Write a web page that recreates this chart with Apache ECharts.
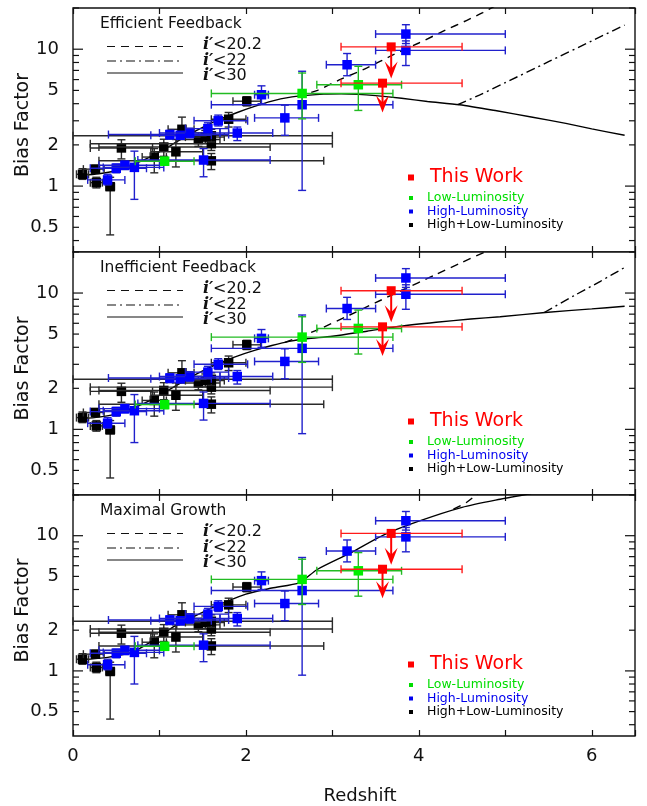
<!DOCTYPE html>
<html>
<head>
<meta charset="utf-8">
<script src="https://cdn.jsdelivr.net/npm/echarts@6/dist/echarts.min.js"></script>
<style>
html, body { margin: 0; padding: 0; background: #fff; }
#chart { width: 647px; height: 806px; }
</style>
</head>
<body>
<div id="chart"></div>
<script>
// ---- axis ticks / labels ----
var yTicks = [0.4, 0.5, 0.6, 0.7, 0.8, 0.9, 1, 2, 3, 4, 5, 6, 7, 8, 9, 10, 20];
var yMajor = [1, 10];
var yLabels = [0.5, 1, 2, 5, 10];
var xLabels = [0, 2, 4, 6];

var panelTitles = ["Efficient Feedback", "Inefficient Feedback", "Maximal Growth"];
var curveLabels = ["<20.2", "<22", "<30"];

// ---- measurements: [z, bias, zLow, zHigh, biasLow, biasHigh] ----
var hiLoLum = [
    [0.11, 1.22, 0.04, 0.18, 1.12, 1.34],
    [0.26, 1.33, 0.12, 0.36, 1.24, 1.42],
    [0.27, 1.06, 0.20, 0.34, 0.97, 1.16],
    [0.43, 0.99, 0.38, 0.48, 0.44, 1.16],
    [0.56, 1.90, 0.20, 0.92, 1.58, 2.18],
    [0.94, 1.63, 0.80, 1.08, 1.25, 1.88],
    [1.05, 1.93, 0.30, 2.28, 1.65, 2.20],
    [1.19, 1.78, 0.90, 1.50, 1.38, 2.19],
    [1.26, 2.60, 1.10, 1.40, 2.28, 3.19],
    [1.45, 2.19, 1.20, 1.70, 1.95, 2.45],
    [1.53, 2.28, 1.30, 1.75, 2.05, 2.55],
    [1.60, 2.04, 0.20, 3.00, 1.82, 2.30],
    [1.60, 2.33, 0.00, 3.00, 2.10, 2.60],
    [1.60, 1.53, 0.30, 2.90, 1.32, 1.73],
    [1.80, 3.08, 1.60, 2.00, 2.70, 3.45],
    [2.01, 4.17, 1.85, 2.17, 3.85, 4.50]
];
var highLum = [
    [0.40, 1.11, 0.17, 0.60, 1.02, 1.22],
    [0.50, 1.35, 0.20, 0.85, 1.25, 1.45],
    [0.60, 1.42, 0.30, 1.00, 1.32, 1.52],
    [0.71, 1.37, 0.35, 1.05, 0.80, 1.80],
    [1.12, 2.38, 0.41, 1.80, 2.20, 2.55],
    [1.24, 2.35, 0.90, 1.60, 2.20, 2.50],
    [1.35, 2.44, 1.00, 1.70, 2.25, 2.65],
    [1.51, 1.55, 0.75, 2.28, 1.17, 1.88],
    [1.56, 2.63, 1.30, 1.80, 2.40, 2.90],
    [1.68, 3.00, 1.40, 2.02, 2.75, 3.30],
    [1.90, 2.44, 1.70, 2.31, 2.15, 2.70],
    [2.18, 4.65, 2.10, 2.26, 4.00, 5.40],
    [2.45, 3.15, 2.10, 2.84, 2.35, 3.90],
    [2.65, 3.93, 1.60, 3.70, 0.93, 6.90],
    [3.17, 7.70, 2.93, 3.50, 6.40, 9.30],
    [3.85, 12.9, 3.50, 5.00, 11.0, 15.1],
    [3.85, 9.80, 3.50, 5.00, 7.60, 11.5]
];
var lowLum = [
    [1.06, 1.52, 0.72, 1.40, 1.42, 1.62],
    [2.65, 4.75, 1.60, 3.70, 3.10, 6.70],
    [3.30, 5.50, 2.82, 3.80, 3.57, 7.50]
];
// upper limits: [z, bias, zLow, zHigh, arrowTip]
var thisWork = [
    [3.68, 10.4, 3.10, 4.50, 6.1],
    [3.58, 5.65, 3.10, 4.50, 3.45]
];

// ---- model curves [z, bias] ----
var effSolid = [[0.1,1.2],[0.3,1.23],[0.5,1.3],[0.7,1.44],[0.9,1.64],[1.1,1.93],[1.3,2.3],[1.5,2.68],[1.7,3.08],[1.9,3.45],[2.1,3.82],[2.3,4.18],[2.5,4.45],[2.7,4.6],[2.9,4.7],[3.1,4.72],[3.3,4.68],[3.5,4.58],[3.8,4.38],[4.1,4.15],[4.47,3.93],[4.9,3.55],[5.3,3.2],[5.7,2.87],[6.0,2.62],[6.38,2.35]];
var effDash = [[2.6,4.52],[2.82,4.99],[3.1,6.04],[3.4,7.3],[3.7,9.08],[4.0,11.1],[4.3,13.7],[4.55,16.2],[4.74,18.5],[4.9,21]];
var effDashDot = [[4.45,3.94],[4.7,4.62],[5.0,5.7],[5.5,8.1],[6.0,11.5],[6.38,15.0]];

var ineffSolid = [[0.1,1.2],[0.3,1.23],[0.5,1.3],[0.7,1.44],[0.9,1.64],[1.1,1.93],[1.3,2.3],[1.5,2.68],[1.7,3.08],[1.9,3.45],[2.1,3.8],[2.3,4.12],[2.5,4.42],[2.7,4.62],[3.0,4.82],[3.4,5.25],[3.78,5.7],[4.2,6.1],[4.6,6.45],[4.94,6.7],[5.46,7.2],[6.0,7.65],[6.38,8.0]];
var ineffDash = [[2.45,4.35],[2.82,5.34],[3.2,6.9],[3.5,8.5],[3.78,10.3],[4.2,13.7],[4.5,16.8],[4.77,20.1],[4.9,22]];
var ineffDashDot = [[5.45,7.2],[5.8,9.6],[6.1,12.2],[6.38,15.4]];

var maxSolid = [[0.1,1.21],[0.4,1.26],[0.7,1.39],[0.9,1.64],[1.16,2.12],[1.3,2.35],[1.62,2.95],[2.0,3.7],[2.3,4.1],[2.62,4.5],[2.82,5.6],[3.2,7.4],[3.59,10.1],[4.0,12.8],[4.5,16.2],[4.94,18.6],[5.3,20.5]];
var maxDash = [[4.4,15.7],[4.55,17.6],[4.7,21]];

var curves = [
    [effSolid, effDash, effDashDot],
    [ineffSolid, ineffDash, ineffDashDot],
    [maxSolid, maxDash, []]
];

var chartDom = document.getElementById("chart");
var myChart = echarts.init(chartDom);
var FONT = "DejaVu Sans";
var INK = "#111";
// order matches curves[i]: solid, dashed, dash-dot
var curveTypes = ["solid", [8, 6], [9, 4, 2, 4]];
// order matches the legend rows: dashed, dash-dot, solid
var legendDash = [[8, 6], [9, 4, 2, 4], null];

var gridTops = [8, 252, 495];
var gridHeights = [244, 243, 243];
var offsets = [0, 244, 487];

function errorBars(fill, stroke, size) {
    return function (params, api) {
        var z = api.value(0), b = api.value(1);
        var p = api.coord([z, b]);
        var xl = api.coord([api.value(2), b])[0];
        var xh = api.coord([api.value(3), b])[0];
        var yl = api.coord([z, api.value(4)])[1];
        var yh = api.coord([z, api.value(5)])[1];
        var ls = { stroke: stroke, lineWidth: 1.4 };
        var c = 4;
        return {
            type: "group",
            children: [
                { type: "line", shape: { x1: xl, y1: p[1], x2: xh, y2: p[1] }, style: ls },
                { type: "line", shape: { x1: xl, y1: p[1] - c, x2: xl, y2: p[1] + c }, style: ls },
                { type: "line", shape: { x1: xh, y1: p[1] - c, x2: xh, y2: p[1] + c }, style: ls },
                { type: "line", shape: { x1: p[0], y1: yl, x2: p[0], y2: yh }, style: ls },
                { type: "line", shape: { x1: p[0] - c, y1: yl, x2: p[0] + c, y2: yl }, style: ls },
                { type: "line", shape: { x1: p[0] - c, y1: yh, x2: p[0] + c, y2: yh }, style: ls },
                { type: "rect", shape: { x: p[0] - size / 2, y: p[1] - size / 2, width: size, height: size }, style: { fill: fill } }
            ]
        };
    };
}

function upperLimits(params, api) {
    var z = api.value(0), b = api.value(1);
    var p = api.coord([z, b]);
    var xl = api.coord([api.value(2), b])[0];
    var xh = api.coord([api.value(3), b])[0];
    var tip = api.coord([z, api.value(4)])[1];
    var ls = { stroke: "#ff1a1a", lineWidth: 1.4 };
    var c = 4;
    return {
        type: "group",
        children: [
            { type: "line", shape: { x1: xl, y1: p[1], x2: xh, y2: p[1] }, style: ls },
            { type: "line", shape: { x1: xl, y1: p[1] - c, x2: xl, y2: p[1] + c }, style: ls },
            { type: "line", shape: { x1: xh, y1: p[1] - c, x2: xh, y2: p[1] + c }, style: ls },
            { type: "line", shape: { x1: p[0], y1: p[1], x2: p[0], y2: tip - 8 }, style: { stroke: "#ff0000", lineWidth: 2 } },
            { type: "polygon", shape: { points: [[p[0] - 6.5, tip - 17], [p[0], tip], [p[0] + 6.5, tip - 17], [p[0], tip - 10]] }, style: { fill: "#ff0000" } },
            { type: "rect", shape: { x: p[0] - 4.5, y: p[1] - 4.5, width: 9, height: 9 }, style: { fill: "#ff0000" } }
        ]
    };
}

function axisDecor(params, api) {
    var v = api.value(1);
    var y = api.coord([0, v])[1];
    var cs = params.coordSys;
    var len = yMajor.indexOf(v) >= 0 ? 10 : 6;
    var ls = { stroke: INK, lineWidth: 1.2 };
    var kids = [
        { type: "line", shape: { x1: cs.x, y1: y, x2: cs.x + len, y2: y }, style: ls },
        { type: "line", shape: { x1: cs.x + cs.width - len, y1: y, x2: cs.x + cs.width, y2: y }, style: ls }
    ];
    if (yLabels.indexOf(v) >= 0) {
        kids.push({
            type: "text",
            x: cs.x - 14, y: y,
            style: { text: String(v), align: "right", verticalAlign: "middle", fontSize: 18, fontFamily: FONT, fill: INK }
        });
    }
    return { type: "group", children: kids };
}

var grids = [], xAxes = [], yAxes = [], series = [], graphics = [];

for (var i = 0; i < 3; i++) {
    grids.push({
        left: 73, top: gridTops[i], width: 562, height: gridHeights[i],
        show: true, borderColor: INK, borderWidth: 1.4, backgroundColor: "#fff"
    });
    var tickStyle = { show: true, inside: true, length: 6, lineStyle: { color: INK, width: 1.2 } };
    xAxes.push({
        gridIndex: i, type: "value", min: 0, max: 6.5, interval: 1,
        axisLine: { show: false }, axisTick: tickStyle, splitLine: { show: false },
        axisLabel: i === 2 ? {
            show: true, fontSize: 18, fontFamily: FONT, color: INK, margin: 11,
            formatter: function (v) { return xLabels.indexOf(v) >= 0 ? String(v) : ""; }
        } : { show: false },
        name: i === 2 ? "Redshift" : "",
        nameLocation: "middle", nameGap: 51,
        nameTextStyle: { fontSize: 18, fontFamily: FONT, color: INK, padding: [0, 0, 0, 12] }
    });
    xAxes.push({
        gridIndex: i, type: "value", min: 0, max: 6.5, interval: 1, position: "top",
        axisLine: { show: false }, axisTick: tickStyle, splitLine: { show: false }, axisLabel: { show: false }
    });
    yAxes.push({
        gridIndex: i, type: "log", logBase: 10, min: 0.33, max: 20,
        axisLine: { show: false }, axisTick: { show: false }, axisLabel: { show: false }, splitLine: { show: false },
        name: "Bias Factor", nameLocation: "middle", nameRotate: 90, nameGap: 40,
        nameTextStyle: { fontSize: 19, fontFamily: FONT, color: INK, padding: [0, 0, 0, 10] }
    });

    var xi = i * 2;
    series.push({
        type: "custom", xAxisIndex: xi, yAxisIndex: i, silent: true, z: 5,
        data: yTicks.map(function (v) { return [0, v]; }),
        renderItem: axisDecor
    });
    for (var k = 0; k < 3; k++) {
        if (!curves[i][k].length) continue;
        series.push({
            type: "line", xAxisIndex: xi, yAxisIndex: i, data: curves[i][k],
            symbol: "none", smooth: 0.25, silent: true, z: 2, clip: true,
            lineStyle: { color: "#000", width: 1.4, type: curveTypes[k] }
        });
    }
    series.push({ type: "custom", xAxisIndex: xi, yAxisIndex: i, data: hiLoLum, silent: true, z: 3, renderItem: errorBars("#000", "#2a2a2a", 9.5) });
    series.push({ type: "custom", xAxisIndex: xi, yAxisIndex: i, data: highLum, silent: true, z: 3, renderItem: errorBars("#0000ff", "#2020cc", 9.5) });
    series.push({ type: "custom", xAxisIndex: xi, yAxisIndex: i, data: lowLum, silent: true, z: 3, renderItem: errorBars("#00ee00", "#22bb22", 9.5) });
    series.push({ type: "custom", xAxisIndex: xi, yAxisIndex: i, data: thisWork, silent: true, z: 4, renderItem: upperLimits });

    var off = offsets[i];
    graphics.push({ type: "text", x: 100, y: 24 + off, style: { text: panelTitles[i], fontSize: 15.5, fontFamily: FONT, fill: INK, verticalAlign: "middle" } });
    var lineRows = [46.5, 61, 73];
    var textRows = [45, 61, 76];
    for (var r = 0; r < 3; r++) {
        graphics.push({
            type: "line", shape: { x1: 107, y1: lineRows[r] + off, x2: 183, y2: lineRows[r] + off },
            style: { stroke: INK, lineWidth: 1.2, lineDash: legendDash[r] }
        });
        graphics.push({
            type: "text", x: 203, y: textRows[r] + off,
            style: { text: "i\u2032", fontSize: 16, fontFamily: "DejaVu Serif", fontStyle: "italic", fontWeight: "bold", fill: INK, verticalAlign: "middle" }
        });
        graphics.push({
            type: "text", x: 213, y: textRows[r] + off,
            style: { text: curveLabels[r], fontSize: 16, fontFamily: FONT, fill: INK, verticalAlign: "middle" }
        });
    }
    var leg = [
        ["This Work", "#ff0000", 177.5, 6, 19],
        ["Low-Luminosity", "#00dd00", 198, 4, 12.5],
        ["High-Luminosity", "#0000ee", 211.5, 4, 12.5],
        ["High+Low-Luminosity", "#000", 225, 4, 12.5]
    ];
    leg.forEach(function (l) {
        graphics.push({ type: "rect", shape: { x: 411 - l[3] / 2, y: l[2] + off - l[3] / 2, width: l[3], height: l[3] }, style: { fill: l[1] } });
        graphics.push({ type: "text", x: l[0] === "This Work" ? 430 : 427, y: l[2] + off, style: { text: l[0], fontSize: l[4], fontFamily: FONT, fill: l[1], verticalAlign: "middle" } });
    });
}

var option = {
    animation: false,
    backgroundColor: "#fff",
    grid: grids,
    xAxis: xAxes,
    yAxis: yAxes,
    series: series,
    graphic: { elements: graphics }
};
option && myChart.setOption(option);
</script>
</body>
</html>
